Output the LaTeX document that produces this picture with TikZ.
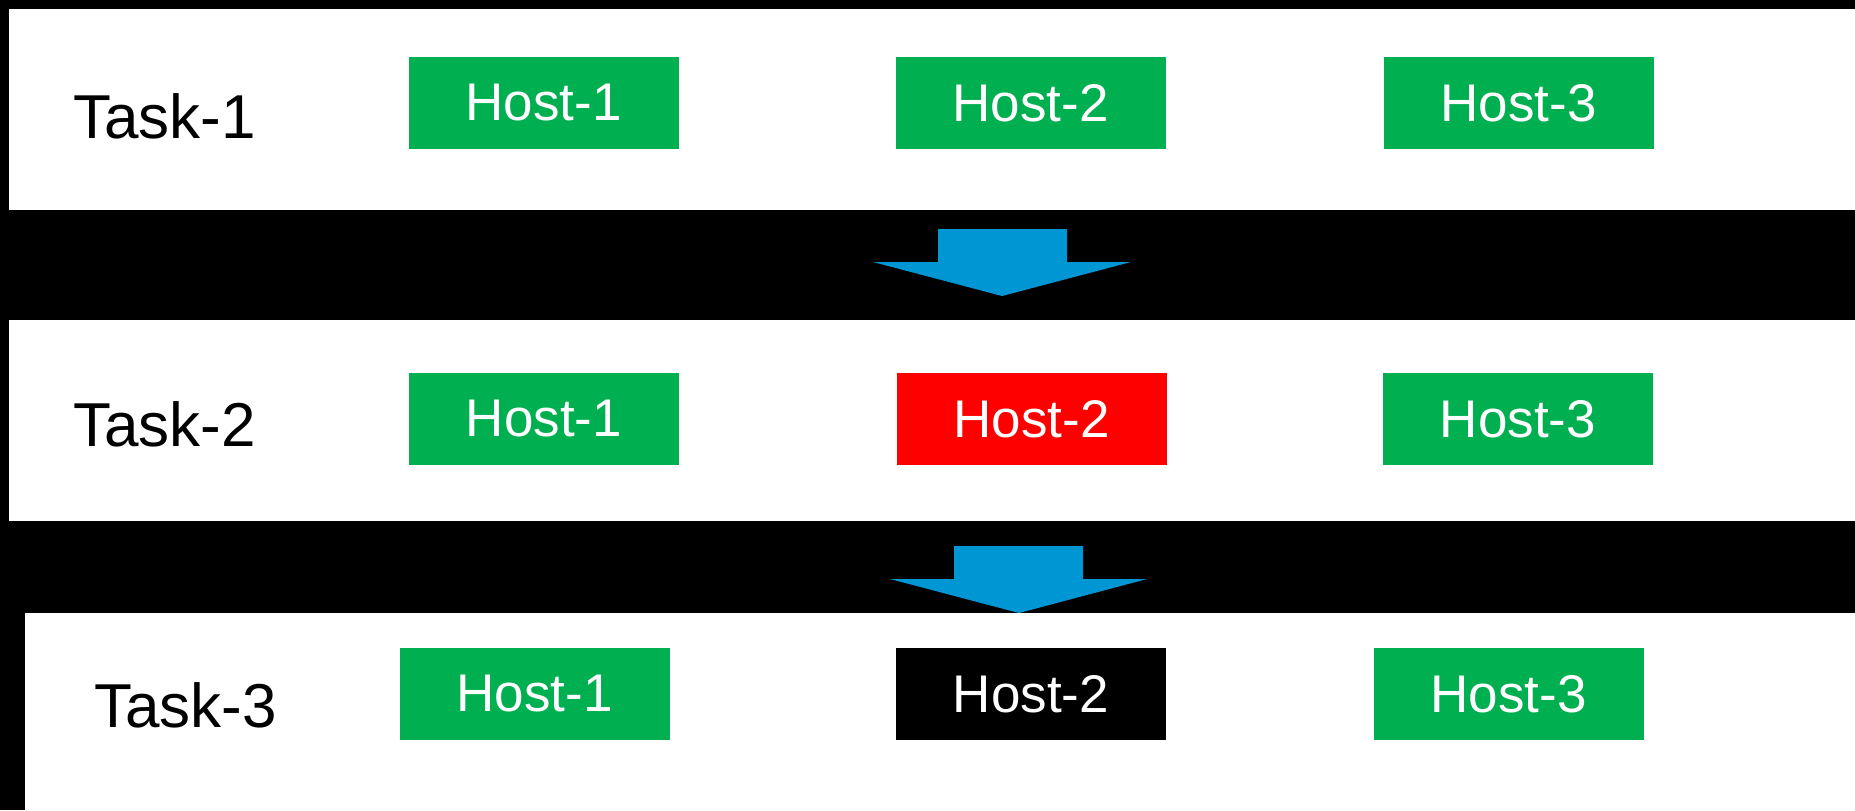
\documentclass[tikz,border=0pt]{standalone}
\usepackage{fontspec}
\setmainfont{Liberation Sans}
\usepackage{tikz}
\usetikzlibrary{positioning}
\definecolor{hostgreen}{RGB}{0,176,80}
\definecolor{flowblue}{RGB}{0,150,212}

\begin{document}
\begin{tikzpicture}[
		x=0.5pt,y=-0.5pt,
		band/.style={fill=white},
		host/.style={
			rectangle,
			fill=hostgreen,
			text=white,
			minimum width=135pt,
			minimum height=46pt,
			inner sep=0pt,
			font=\fontsize{26.5}{30}\selectfont
		},
		failed/.style={host, fill=red},
		gone/.style={host, fill=black},
		task/.style={
			anchor=base west,
			inner sep=0pt,
			font=\fontsize{31}{36}\selectfont
		},
		flow/.style={fill=flowblue}
		]
		% Background and bands
		\fill[black] (0,0) rectangle (1855,810);
		\fill[band] (9,9) rectangle (1855,210);
		\fill[band] (9,320) rectangle (1855,521);
		\fill[band] (25,613) rectangle (1855,810);
		\useasboundingbox (0,0) rectangle (1855,810);
		
		% Task-1
		\node[task] (T1) at (73,138) {Task-1};
		\node[host] (T1H1) at (543.5,103) {Host-1};
		\node[host] (T1H2) at (1030.5,103) {Host-2};
		\node[host] (T1H3) at (1518.5,103) {Host-3};
		
		% Task-2 (Host-2 failed)
		\node[task] (T2) at (73,446) {Task-2};
		\node[host] (T2H1) at (544,419) {Host-1};
		\node[failed] (T2H2) at (1031.5,419) {Host-2};
		\node[host] (T2H3) at (1518,419) {Host-3};
		
		% Task-3 (Host-2 removed)
		\node[task] (T3) at (94,727) {Task-3};
		\node[host] (T3H1) at (534.5,694) {Host-1};
		\node[gone] (T3H2) at (1031,694) {Host-2};
		\node[host] (T3H3) at (1508.5,694) {Host-3};
		
		% Block arrows between bands
		\coordinate (A1) at (1002,296);
		\coordinate (A2) at (1019,613);
		\fill[flow] (A1) -- ++(129,-34) -- ++(-64,0) -- ++(0,-33) -- ++(-129,0)
		-- ++(0,33) -- ++(-65,0) -- cycle;
		\fill[flow] (A2) -- ++(128,-34) -- ++(-64,0) -- ++(0,-33) -- ++(-129,0)
		-- ++(0,33) -- ++(-64,0) -- cycle;
	\end{tikzpicture}
\end{document}
